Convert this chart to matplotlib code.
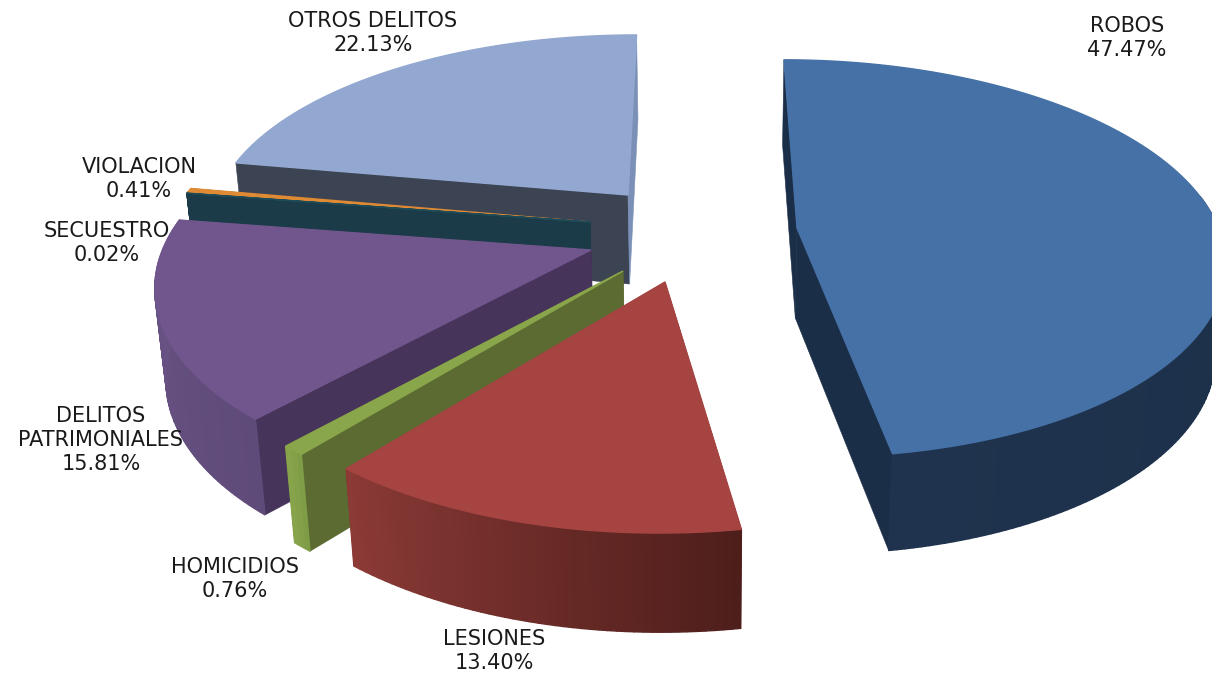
import numpy as np
import matplotlib
matplotlib.use("Agg")
import matplotlib.pyplot as plt
from matplotlib.colors import to_rgb

# ---- data ----
categories = ["ROBOS", "LESIONES", "HOMICIDIOS", "DELITOS\nPATRIMONIALES",
              "SECUESTRO", "VIOLACION", "OTROS DELITOS"]
shares = [47.47, 13.40, 0.76, 15.81, 0.02, 0.41, 22.13]

# ---- styles ----
top_colors = ["#4571a6", "#a64442", "#8aa64b", "#70568c", "#1f4a58", "#e08a33", "#93a8d0"]
wall_start = ["#1b2e48", "#5a2320", "#5b6b32", "#46345a", "#1a3b47", "#1a3b47", "#3c4454"]
wall_end = ["#1b2e48", "#5a2320", "#5b6b32", "#46345a", "#1a3b47", "#1a3b47", "#7a90b6"]
rim_start = ["#1a2c45", "#4e1e1b", "#7f9c46", "#5f4b7a", "#1a3b47", "#1a3b47", "#3c4454"]
rim_end = ["#1f334e", "#8b3a36", "#88a44a", "#6a5486", "#1a3b47", "#1a3b47", "#3c4454"]
slice_origin = [(797, 228), (665, 282), (623, 271), (591, 250),
                (590, 222), (590, 222), (628, 195)]
label_pos = [(1127, 38), (494, 651), (235, 579), (101, 440), (107, 243), (139, 179), (373, 33)]
draw_order = [6, 5, 4, 3, 2, 1, 0]

# ---- perspective of the pie plane ----
XC, YC = 696.0, 241.0
A, KX = 425.6, 0.15
B, KY = 198.0, 0.155


def project(u, v):
    return XC + A * u / (1 + KX * v), YC - B * v / (1 + KY * v)


def unproject(x, y):
    yy = YC - y
    v = yy / (B - KY * yy)
    return (x - XC) * (1 + KX * v) / A, v


def drop(x, y):
    h = 90 + (y - 228) * 0.03
    return 711 + (x - 711) * (1 - h / 4550), y + h


def lerp(c1, c2, t):
    a, b = np.array(to_rgb(c1)), np.array(to_rgb(c2))
    return tuple(a + (b - a) * t)


fig = plt.figure(figsize=(12.12, 6.76), dpi=100)
ax = fig.add_axes([0, 0, 1, 1])
ax.set_xlim(0, 1212)
ax.set_ylim(676, 0)
ax.axis("off")

edges = np.concatenate([[0], np.cumsum(shares)]) / sum(shares) * 2 * np.pi

for order, i in enumerate(draw_order):
    z = 1 + order
    a0, a1 = edges[i], edges[i + 1]
    u0, v0 = unproject(*slice_origin[i])
    n = max(3, int((a1 - a0) / np.radians(1.0)))
    ang = np.linspace(a0, a1, n + 1)
    rx, ry = project(u0 + np.sin(ang), v0 + np.cos(ang))
    bx, by = drop(rx, ry)
    ox, oy = slice_origin[i]
    obx, oby = drop(ox, oy)

    # radial side walls
    ax.fill([rx[0], ox, obx, bx[0]], [ry[0], oy, oby, by[0]],
            color=wall_start[i], lw=0.4, zorder=z)
    ax.fill([rx[-1], ox, obx, bx[-1]], [ry[-1], oy, oby, by[-1]],
            color=wall_end[i], lw=0.4, zorder=z)

    # outer rim with its shading: only the part that faces the viewer
    for j in range(n):
        if np.cos((ang[j] + ang[j + 1]) / 2) > 0.16:
            continue
        c = lerp(rim_start[i], rim_end[i], j / max(n - 1, 1))
        ax.fill([rx[j], rx[j + 1], bx[j + 1], bx[j]],
                [ry[j], ry[j + 1], by[j + 1], by[j]],
                color=c, lw=1.0, zorder=z)

    # top face
    ax.fill(np.r_[ox, rx], np.r_[oy, ry], color=top_colors[i], lw=1.0, zorder=z + 0.5)

for cat, val, (x, y) in zip(categories, shares, label_pos):
    ax.text(x, y, f"{cat}\n{val:.2f}%", ha="center", va="center",
            fontsize=15, color="#1a1a1a", family="DejaVu Sans", linespacing=1.28, zorder=20)

fig.savefig("out.png", dpi=100)
